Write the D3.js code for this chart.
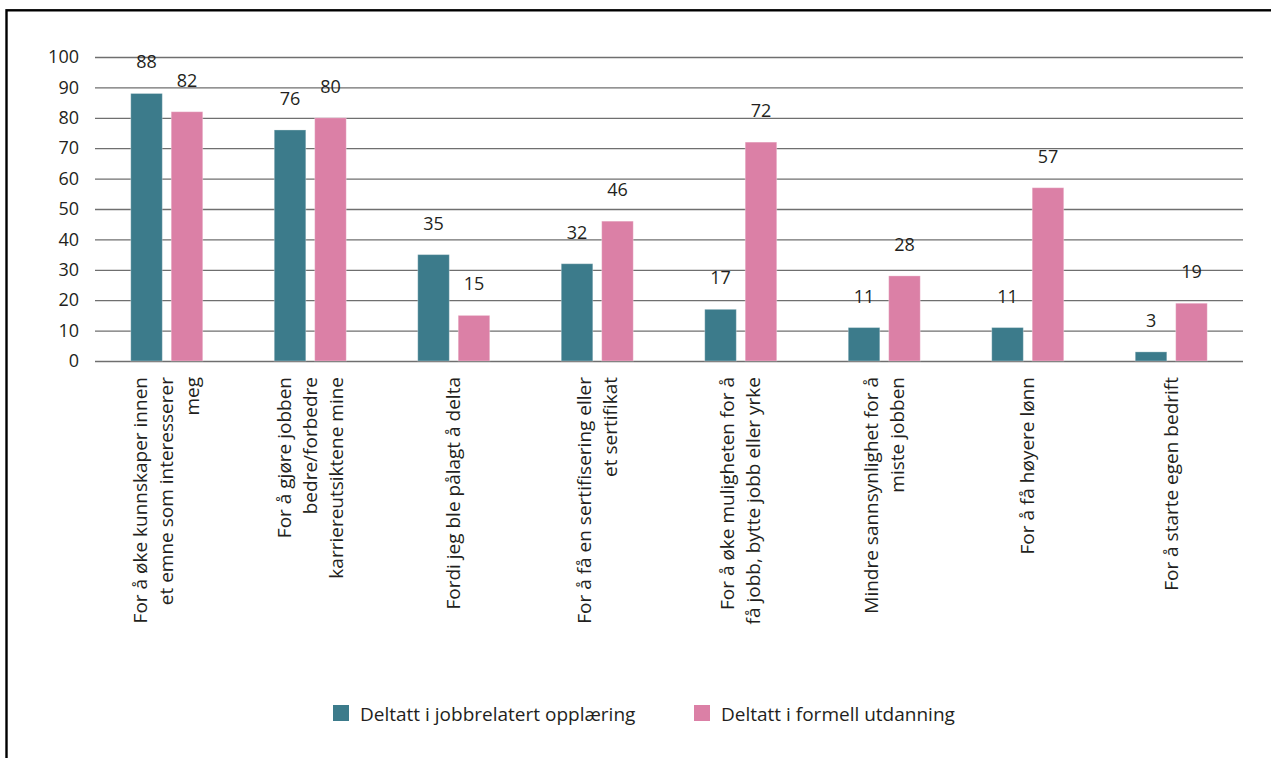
<!DOCTYPE html>
<html lang="no">
<head>
<meta charset="utf-8">
<script src="https://cdn.jsdelivr.net/npm/d3@7"></script>
<style>
  html, body { margin: 0; padding: 0; background: #fff; }
  svg { display: block; font-family: "Open Sans", "Noto Sans", sans-serif; }
  .txt { fill: #231f20; }
</style>
</head>
<body>
<svg id="chart" width="1271" height="758"></svg>
<script>
// Category labels, one array of text lines per group
const categories = [
  ["For å øke kunnskaper innen", "et emne som interesserer", "meg"],
  ["For å gjøre jobben", "bedre/forbedre", "karriereutsiktene mine"],
  ["Fordi jeg ble pålagt å delta"],
  ["For å få en sertifisering eller", "et sertifikat"],
  ["For å øke muligheten for å", "få jobb, bytte jobb eller yrke"],
  ["Mindre sannsynlighet for å", "miste jobben"],
  ["For å få høyere lønn"],
  ["For å starte egen bedrift"]
];
const seriesNames = ["Deltatt i jobbrelatert opplæring", "Deltatt i formell utdanning"];
const jobbrelatert = [88, 76, 35, 32, 17, 11, 11, 3];
const formell = [82, 80, 15, 46, 72, 28, 57, 19];
const yTicks = [0, 10, 20, 30, 40, 50, 60, 70, 80, 90, 100];
const colors = ["#3c7b8b", "#db80a6"];

const svg = d3.select("#chart");
const plotLeft = 95, plotRight = 1243, plotTop = 57, plotBottom = 361;
const numSize = 18;    // tick and value labels
const textSize = 19;   // category and legend labels

// outer frame
svg.append("rect")
  .attr("x", 6.5).attr("y", 10.3)
  .attr("width", 1300).attr("height", 800)
  .attr("fill", "none").attr("stroke", "#000").attr("stroke-width", 2.4);

const keys = categories.map((c, i) => i);
const x0 = d3.scaleBand().domain(keys).range([plotLeft, plotRight]).padding(0);
const half = 36;
const x1 = d3.scaleBand().domain(seriesNames)
  .range([x0.bandwidth() / 2 - half, x0.bandwidth() / 2 + half])
  .paddingInner(0.22);
const y = d3.scaleLinear().domain([0, 100]).range([plotBottom, plotTop]);

// y axis with gridlines
const yAxis = svg.append("g")
  .attr("transform", `translate(${plotLeft},0)`)
  .call(d3.axisLeft(y).tickValues(yTicks).tickSize(-(plotRight - plotLeft)).tickPadding(16));
yAxis.select(".domain").remove();
yAxis.selectAll(".tick line").attr("stroke", "#6f6f6f").attr("stroke-width", 1.3);
yAxis.selectAll(".tick text")
  .attr("class", "txt")
  .style("font-family", "\"Open Sans\", sans-serif")
  .style("font-size", numSize + "px");

const data = keys.map(i => [
  { s: seriesNames[0], v: jobbrelatert[i] },
  { s: seriesNames[1], v: formell[i] }
]);

const groups = svg.append("g").selectAll("g")
  .data(data).join("g")
  .attr("transform", (d, i) => `translate(${x0(i)},0)`);

groups.selectAll("rect")
  .data(d => d).join("rect")
  .attr("x", d => x1(d.s))
  .attr("width", x1.bandwidth())
  .attr("y", d => y(d.v))
  .attr("height", d => y(0) - y(d.v))
  .attr("fill", (d, j) => colors[j])
  .attr("stroke", "#ffffff").attr("stroke-opacity", 0.3).attr("stroke-width", 1);

groups.selectAll("text.val")
  .data(d => d).join("text")
  .attr("class", "val txt")
  .attr("x", d => x1(d.s) + x1.bandwidth() / 2)
  .attr("y", d => y(d.v) - 25)
  .attr("text-anchor", "middle")
  .style("font-size", numSize + "px")
  .text(d => d.v);

// rotated category labels
const lineGap = 26;
const catLabels = svg.append("g").selectAll("text")
  .data(categories).join("text")
  .attr("class", "txt")
  .attr("text-anchor", "end")
  .style("font-size", textSize + "px")
  .attr("transform", (d, i) => `translate(${x0(i) + x0.bandwidth() / 2},377) rotate(-90)`);
catLabels.selectAll("tspan")
  .data(d => d.map((t, k) => ({ t, k, n: d.length })))
  .join("tspan")
  .attr("x", 0)
  .attr("y", d => (d.k - (d.n - 1) / 2) * lineGap)
  .attr("dy", "0.35em")
  .text(d => d.t);

// legend
const legendItems = [
  { name: seriesNames[0], color: colors[0], x: 333 },
  { name: seriesNames[1], color: colors[1], x: 694 }
];
const lg = svg.append("g").selectAll("g").data(legendItems).join("g")
  .attr("transform", d => `translate(${d.x},705)`);
lg.append("rect").attr("width", 16).attr("height", 16).attr("fill", d => d.color);
lg.append("text").attr("class", "txt")
  .attr("x", 27).attr("y", 16)
  .style("font-size", textSize + "px")
  .text(d => d.name);
</script>
</body>
</html>
